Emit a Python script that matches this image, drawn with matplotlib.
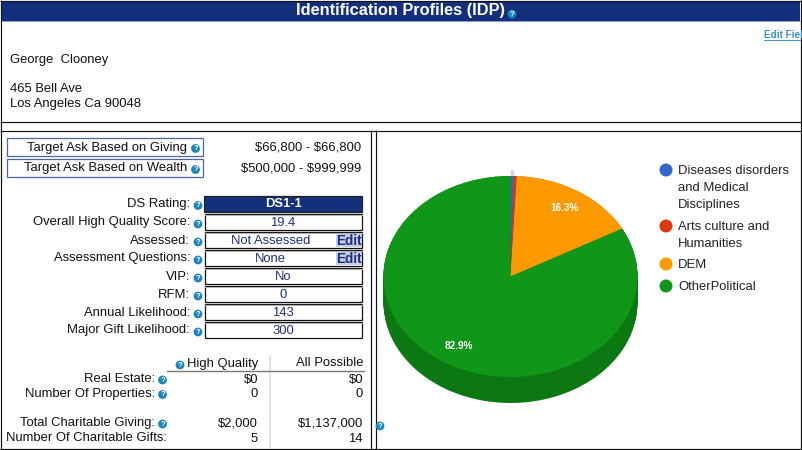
import matplotlib
matplotlib.use("Agg")
import matplotlib.pyplot as plt
from matplotlib.patches import Rectangle, Circle

plt.rcParams['font.family'] = ['Liberation Sans', 'DejaVu Sans']
plt.rcParams['text.parse_math'] = False

# Pie data
categories = ['Diseases disorders\nand Medical\nDisciplines', 'Arts culture and\nHumanities', 'DEM', 'OtherPolitical']
shares = [0.4, 0.4, 16.3, 82.9]
colors = ['#3366cc', '#dc3912', '#ff9900', '#109618']
side_colors = ['#26499a', '#a32a0d', '#bf7300', '#0c7812']

# Profile data
person_name = 'George  Clooney'
address = ['465 Bell Ave', 'Los Angeles Ca 90048']
ask_labels = ['Target Ask Based on Giving', 'Target Ask Based on Wealth']
ask_values = ['$66,800 - $66,800', '$500,000 - $999,999']
rating_labels = ['DS Rating:', 'Overall High Quality Score:', 'Assessed:', 'Assessment Questions:',
                 'VIP:', 'RFM:', 'Annual Likelihood:', 'Major Gift Likelihood:']
rating_values = ['DS1-1', '19.4', 'Not Assessed', 'None', 'No', '0', '143', '300']
table_labels = ['Real Estate:', 'Number Of Properties:', 'Total Charitable Giving:', 'Number Of Charitable Gifts:']
high_quality = ['$0', '0', '$2,000', '5']
all_possible = ['$0', '0', '$1,137,000', '14']

W, H = 802, 450
NAVY = '#14307c'
BLUE_TEXT = '#1f2f80'
ICON = '#1b86ba'
BODY = 9.4

fig = plt.figure(figsize=(W / 100, H / 100), dpi=100, facecolor='white')
ax = fig.add_axes([0, 0, 1, 1])
ax.set_xlim(0, W)
ax.set_ylim(H, 0)
ax.axis('off')


def label(x, y, s, ha='left', size=BODY, color='#111111', **kw):
    # va center sits about a pixel high here, so push it down
    return ax.text(x, y + 1, s, ha=ha, va='center', fontsize=size, color=color, **kw)


def help_icon(x, y):
    ax.add_patch(Circle((x, y), 4.4, fc=ICON, ec='none', zorder=4))
    ax.text(x, y + 0.2, '?', ha='center', va='center', fontsize=5.5, color='white',
            fontweight='bold', zorder=5)


# Outer frame and header
frame_lines = [((0.5, 0.5), (0, H)), ((801, 801), (0, H)), ((0, W), (0.5, 0.5)),
               ((0, W), (121.5, 121.5)), ((0, W), (130.5, 130.5)), ((0, W), (449, 449)),
               ((371, 371), (130, H)), ((375.5, 375.5), (130, H))]
for xs, ys in frame_lines:
    ax.plot(xs, ys, color='#111111', lw=0.85, solid_capstyle='butt')
ax.add_patch(Rectangle((2, 2), 798, 19, fc=NAVY, ec='none'))
ax.plot((2, 800), (21, 21), color='#8a9cc4', lw=0.7)
label(401, 10, 'Identification Profiles (IDP)', ha='center', size=11.8, color='white', fontweight='bold')
help_icon(512, 14)
label(764, 34, 'Edit Fiel', size=7.2, color='#3a94c8', fontweight='bold')
ax.plot((764, 800), (39.5, 39.5), color='#3a94c8', lw=0.7)

# Name and address
label(10, 59, person_name)
label(10, 88, address[0])
label(10, 103, address[1])

# Target ask boxes
ask_top = [137.5, 158.5]
for top, lab, val in zip(ask_top, ask_labels, ask_values):
    ax.add_patch(Rectangle((6.5, top), 196, 18.5, fc='white', ec='#4a67a3', lw=0.9))
    label(187, top + 9, lab, ha='right')
    help_icon(195.5, top + 11)
    label(361.5, top + 9, val, ha='right')

# Rating rows
row_tops = [195.5, 214, 232, 250, 268, 286, 304, 322]
for i, (top, lab, val) in enumerate(zip(row_tops, rating_labels, rating_values)):
    label(190, top + 7.5, lab, ha='right')
    help_icon(198, top + 10)
    if i == 0:
        ax.add_patch(Rectangle((204, top), 158, 16.5, fc=NAVY, ec='#222222', lw=0.9))
        label(283, top + 7.5, val, ha='center', color='white', fontweight='bold')
        continue
    ax.add_patch(Rectangle((204.5, top), 157.5, 16, fc='white', ec='#111111', lw=0.9))
    ax.plot((205, 361.5), (top + 1.2, top + 1.2), color='#b0b0b0', lw=0.8)
    has_edit = i in (2, 3)
    label(270.5 if has_edit else 283, top + 8, val, ha='center', color=BLUE_TEXT)
    if has_edit:
        ax.add_patch(Rectangle((336, top + 2), 25.5, 13, fc='#c6cfe3', ec='none', zorder=2))
        label(348.5, top + 8, 'Edit', ha='center', size=9.8, color=BLUE_TEXT, fontweight='bold', zorder=3)

# Lower table
ax.plot((270, 270), (356, 448), color='#dddddd', lw=1.2)
ax.plot((167, 363.5), (370.5, 370.5), color='#777777', lw=1.0)
help_icon(180, 365)
label(258, 362.5, 'High Quality', ha='right')
label(363, 362.5, 'All Possible', ha='right')
table_y = [378, 392.5, 422, 437]
for i, y in enumerate(table_y):
    label(155 if i < 3 else 167, y, table_labels[i], ha='right')
    if i < 3:
        help_icon(162.5, y + 2)
    label(258, y + 0.5, high_quality[i], ha='right')
    label(363, y + 0.5, all_possible[i], ha='right')
help_icon(380, 426)

# Legend
legend_y = [170, 226, 264, 286]
for name, col, y in zip(categories, colors, legend_y):
    ax.add_patch(Circle((666, y), 6.5, fc=col, ec='none'))
    for j, line in enumerate(name.split('\n')):
        label(678, y + j * 17.2, line, color='#222222')

# Tilted pie: top ellipse 254 x 201 px with a 26 px side wall
left, right, top, bottom = 383.5, 637.5, 176, 403
pie_ax = fig.add_axes([left / W, 1 - bottom / H, (right - left) / W, (bottom - top) / H])
depth = 26 / 100.5
for k in range(27):
    off = depth * (1 - k / 26)
    pie_ax.pie(shares, colors=side_colors, startangle=90, counterclock=False,
               center=(0, -off), radius=1)
wedges, texts, autotexts = pie_ax.pie(
    shares, colors=colors, startangle=90, counterclock=False, radius=1,
    autopct=lambda p: f'{p:.1f}%' if p > 1 else '', pctdistance=0.8,
    textprops={'color': 'white', 'fontsize': 7.2, 'fontweight': 'bold'})
pie_ax.set_aspect('auto')
pie_ax.set_xlim(-1, 1)
pie_ax.set_ylim(-1 - depth, 1)
pie_ax.axis('off')
pie_ax.patch.set_alpha(0)

# Hover highlight above the thin slice
ax.plot((512, 512), (170, 176), color='#c5d8ee', lw=2.5, solid_capstyle='butt')

fig.savefig('out.png', dpi=100)
